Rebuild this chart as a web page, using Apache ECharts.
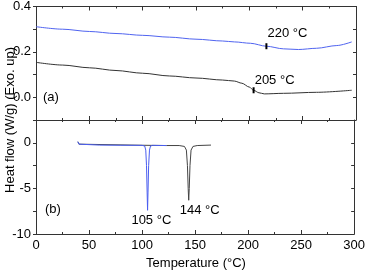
<!DOCTYPE html>
<html><head><meta charset="utf-8">
<script src="https://cdn.jsdelivr.net/npm/echarts@6/dist/echarts.min.js"></script>
<style>html,body{margin:0;padding:0;background:#fff}#c{width:368px;height:275px}</style>
</head><body><div id="c"></div>
<script>
// Panel (a): DSC traces
var aBlueT = [0, 25, 50, 75, 100, 125, 150, 175, 186, 201, 216, 232, 246, 263, 282, 296];
var aBlueV = [0.311, 0.300, 0.290, 0.281, 0.273, 0.265, 0.256, 0.248, 0.244, 0.238, 0.225, 0.2135, 0.2105, 0.216, 0.228, 0.244];
var aBlackT = [0, 25, 50, 75, 100, 125, 150, 175, 186, 193, 200, 204, 209, 214, 232, 263, 296];
var aBlackV = [0.154, 0.142, 0.130, 0.118, 0.106, 0.094, 0.085, 0.076, 0.0715, 0.062, 0.045, 0.031, 0.020, 0.015, 0.0175, 0.022, 0.031];
// Panel (b)
var bBlueT = [39.5, 40.5, 42, 60, 80, 100, 102.5, 103.5, 104.2, 104.8, 105.2, 105.6, 106.2, 107, 108, 110, 123];
var bBlueV = [0.12, -0.15, -0.25, -0.25, -0.27, -0.28, -0.35, -0.8, -2.5, -5.5, -7.4, -5.5, -2.5, -0.8, -0.35, -0.28, -0.3];
var bBlackT = [39.5, 40.5, 42, 100, 123, 135, 140, 141.8, 142.8, 143.5, 144, 144.5, 145.2, 146.2, 148, 152, 165];
var bBlackV = [0.12, -0.15, -0.25, -0.27, -0.3, -0.3, -0.4, -0.8, -2.5, -5, -6.3, -5, -2.5, -0.8, -0.4, -0.3, -0.25];
// Transition markers and labels
var markA = [{t: 216, v: 0.225, label: '220 °C'}, {t: 204, v: 0.031, label: '205 °C'}];
var peakB = [{t: 105, v: -7.4, label: '105 °C'}, {t: 144, v: -6.3, label: '144 °C'}];
var xTicks = {min: 0, max: 300, interval: 50};
var yTopTicks = {min: -0.1, max: 0.4, interval: 0.1};
var yBotTicks = {min: -10, max: 2.5, interval: 2.5};

function zip(a, b) { return a.map(function (x, i) { return [x, b[i]]; }); }

var FONT = 'Liberation Sans, Arial, sans-serif';
var AX = '#333';
function xAx(grid, pos, showLabel) {
  return {
    type: 'value', gridIndex: grid, position: pos, min: xTicks.min, max: xTicks.max, interval: xTicks.interval,
    axisLine: {show: true, onZero: false, lineStyle: {color: AX, width: 1}},
    axisTick: {show: true, inside: true, length: 4, lineStyle: {color: AX}},
    minorTick: {show: true, splitNumber: 2, length: 2, lineStyle: {color: AX}},
    axisLabel: {show: showLabel, color: '#000', fontSize: 13, fontFamily: FONT, margin: 5},
    splitLine: {show: false}
  };
}
function yAx(grid, pos, cfg, showLabel, fmt) {
  return {
    type: 'value', gridIndex: grid, position: pos, min: cfg.min, max: cfg.max, interval: cfg.interval,
    axisLine: {show: true, onZero: false, lineStyle: {color: AX, width: 1}},
    axisTick: {show: true, inside: pos === 'right', length: 3, lineStyle: {color: AX}},
    axisLabel: {show: showLabel, color: '#000', fontSize: 13, fontFamily: FONT, margin: 5, formatter: fmt},
    splitLine: {show: false}
  };
}
var fmtTop = function (v) { var k = Math.round(v * 10); return (k >= 0 && k % 2 === 0) ? (k / 10).toFixed(1) : ''; };
var fmtBot = function (v) { var k = Math.round(v * 10); return (k % 50 === 0) ? String(k / 10) : ''; };

function markSeries(list, xi, yi, visible, offs) {
  return {
    type: 'scatter', xAxisIndex: xi, yAxisIndex: yi, silent: true,
    symbol: 'rect', symbolSize: [2, 6],
    itemStyle: {color: '#000', opacity: visible ? 1 : 0},
    data: list.map(function (m, i) {
      return {value: [m.t, m.v], label: {show: true, formatter: m.label, offset: offs[i], position: 'inside',
        color: '#000', fontSize: 13, fontFamily: FONT, opacity: 1}};
    }),
    z: 5
  };
}

var chart = echarts.init(document.getElementById('c'), null, {renderer: 'canvas'});
chart.setOption({
  animation: false,
  backgroundColor: '#fff',
  grid: [
    {left: 36, right: 12, top: 6, height: 114},
    {left: 36, right: 12, top: 120, height: 114}
  ],
  xAxis: [xAx(0, 'bottom', false), xAx(0, 'top', false), xAx(1, 'bottom', true), xAx(1, 'top', false)],
  yAxis: [
    yAx(0, 'left', yTopTicks, true, fmtTop), yAx(0, 'right', yTopTicks, false),
    yAx(1, 'left', yBotTicks, true, fmtBot), yAx(1, 'right', yBotTicks, false)
  ],
  series: [
    {type: 'line', xAxisIndex: 0, yAxisIndex: 0, data: zip(aBlueT, aBlueV), showSymbol: false, smooth: 0.3, smoothMonotone: 'x',
      lineStyle: {color: '#5064f0', width: 1}},
    {type: 'line', xAxisIndex: 0, yAxisIndex: 0, data: zip(aBlackT, aBlackV), showSymbol: false, smooth: 0.3, smoothMonotone: 'x',
      lineStyle: {color: '#333', width: 1}},
    {type: 'line', xAxisIndex: 2, yAxisIndex: 2, data: zip(bBlackT, bBlackV), showSymbol: false,
      lineStyle: {color: '#444', width: 1}},
    {type: 'line', xAxisIndex: 2, yAxisIndex: 2, data: zip(bBlueT, bBlueV), showSymbol: false,
      lineStyle: {color: '#4a5ef0', width: 1}},
    markSeries(markA, 0, 0, true, [[21, -13], [21, -10]]),
    markSeries(peakB, 2, 2, false, [[4, 10], [11, 10]])
  ],
  graphic: [
    {type: 'text', left: 43, top: 91, style: {text: '(a)', fontSize: 13, fontFamily: FONT, fill: '#000'}},
    {type: 'text', left: 45, top: 203, style: {text: '(b)', fontSize: 13, fontFamily: FONT, fill: '#000'}},
    {type: 'text', x: 196, y: 263, style: {text: 'Temperature (°C)', fontSize: 13, fontFamily: FONT, fill: '#000', textAlign: 'center', textVerticalAlign: 'middle'}},
    {type: 'text', x: 10, y: 120, rotation: Math.PI / 2, style: {text: 'Heat flow (W/g) (Exo. up)', fontSize: 13, fontFamily: FONT, fill: '#000', textAlign: 'center', textVerticalAlign: 'middle'}}
  ]
});
</script></body></html>
